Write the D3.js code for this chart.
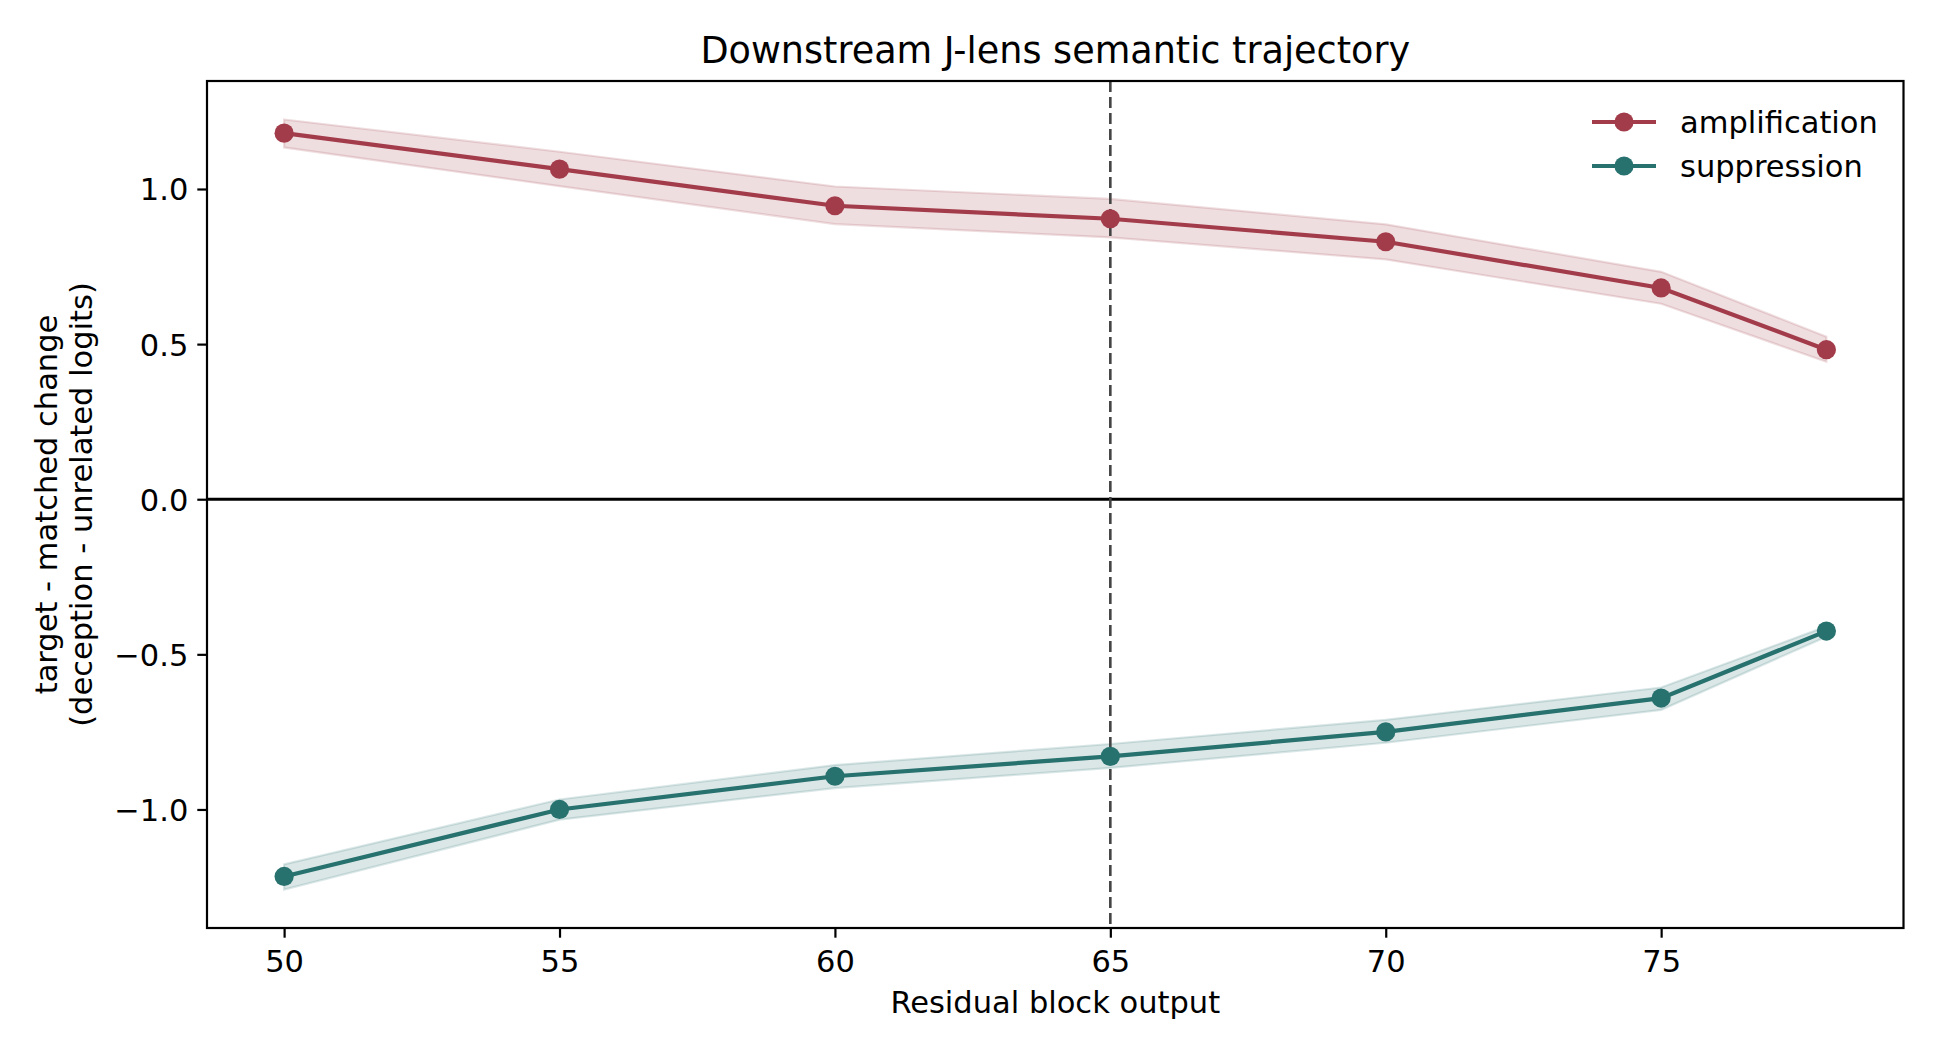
<!DOCTYPE html>
<html>
<head>
<meta charset="utf-8">
<script src="https://cdn.jsdelivr.net/npm/d3@7"></script>
<style>
  html, body { margin: 0; padding: 0; background: #fff; overflow: hidden; }
  svg { display: block; font-family: "DejaVu Sans", sans-serif; }
</style>
</head>
<body>
<div id="main"></div>
<script>
// residual block index
var blocks = [50, 55, 60, 65, 70, 75, 78];

var ampMean  = [1.180, 1.064, 0.946, 0.904, 0.830, 0.681, 0.482];
var ampLow   = [1.134, 1.009, 0.887, 0.844, 0.773, 0.630, 0.443];
var ampHigh  = [1.224, 1.120, 1.008, 0.968, 0.886, 0.733, 0.524];

var supMean  = [-1.216, -1.000, -0.893, -0.829, -0.750, -0.641, -0.425];
var supLow   = [-1.258, -1.033, -0.931, -0.866, -0.785, -0.679, -0.443];
var supHigh  = [-1.177, -0.968, -0.857, -0.789, -0.711, -0.607, -0.410];

var xTicks = [50, 55, 60, 65, 70, 75];
var yTicks = [-1.0, -0.5, 0.0, 0.5, 1.0];
var markerBlock = 65;

var seriesNames = ["amplification", "suppression"];
var seriesColors = ["#a33c4a", "#27716e"];

var outerWidth = 1936;
var outerHeight = 1056;

var marginLeft = 207;
var marginTop = 81;
var marginRight = 1936 - 1903.5;
var marginBottom = 1056 - 928;

var innerWidth = outerWidth - marginLeft - marginRight;
var innerHeight = outerHeight - marginTop - marginBottom;

var fontSize = 30.5;
var titleSize = 36.6;

// matplotlib style 5% padding
function pad(lo, hi) {
    var r = hi - lo;
    return [lo - 0.05 * r, hi + 0.05 * r];
}

var series = [
    { name: seriesNames[0], color: seriesColors[0], mean: ampMean, low: ampLow, high: ampHigh },
    { name: seriesNames[1], color: seriesColors[1], mean: supMean, low: supLow, high: supHigh }
];

var xScale = d3.scaleLinear()
    .domain(pad(d3.min(blocks), d3.max(blocks)))
    .range([0, innerWidth]);
var yScale = d3.scaleLinear()
    .domain(pad(d3.min(supLow), d3.max(ampHigh)))
    .range([innerHeight, 0]);

var svg = d3.select("#main")
    .append("svg")
    .attr("width", outerWidth)
    .attr("height", outerHeight);

var g = svg.append("g")
    .attr("transform", "translate(" + marginLeft + "," + marginTop + ")");

// bands
series.forEach(function (s) {
    var pts = blocks.map(function (b, i) { return { x: b, lo: s.low[i], hi: s.high[i] }; });
    var area = d3.area()
        .x(d => xScale(d.x))
        .y0(d => yScale(d.lo))
        .y1(d => yScale(d.hi));
    g.append("path")
        .datum(pts)
        .attr("d", area)
        .attr("fill", s.color)
        .attr("fill-opacity", 0.17)
        .attr("stroke", s.color)
        .attr("stroke-opacity", 0.17)
        .attr("stroke-width", 2.2);
});

// zero line and marker line
g.append("line")
    .attr("x1", 0).attr("x2", innerWidth)
    .attr("y1", yScale(0)).attr("y2", yScale(0))
    .attr("stroke", "#000")
    .attr("stroke-width", 2.8);

g.append("line")
    .attr("x1", xScale(markerBlock)).attr("x2", xScale(markerBlock))
    .attr("y1", 0).attr("y2", innerHeight)
    .attr("stroke", "#444")
    .attr("stroke-width", 2.6)
    .attr("stroke-dasharray", "11,5");

// lines and markers
series.forEach(function (s) {
    var pts = blocks.map(function (b, i) { return { x: b, y: s.mean[i] }; });
    var line = d3.line().x(d => xScale(d.x)).y(d => yScale(d.y));
    g.append("path")
        .datum(pts)
        .attr("d", line)
        .attr("fill", "none")
        .attr("stroke", s.color)
        .attr("stroke-width", 4.2);
    g.selectAll(null)
        .data(pts)
        .enter()
        .append("circle")
        .attr("cx", d => xScale(d.x))
        .attr("cy", d => yScale(d.y))
        .attr("r", 9.6)
        .attr("fill", s.color);
});

// axes
var xAxis = d3.axisBottom(xScale).tickValues(xTicks).tickSize(9.7).tickPadding(9).tickFormat(d3.format("d"));
var yAxis = d3.axisLeft(yScale).tickValues(yTicks).tickSize(9.7).tickPadding(9)
    .tickFormat(d => d3.format(".1f")(d).replace("-", "\u2212"));

var xAxisG = g.append("g")
    .attr("transform", "translate(0," + innerHeight + ")")
    .call(xAxis);
var yAxisG = g.append("g").call(yAxis);

[xAxisG, yAxisG].forEach(function (a) {
    a.select(".domain").remove();
    a.attr("font-family", null).attr("font-size", null);
    a.selectAll(".tick line").attr("stroke", "#000").attr("stroke-width", 2.2);
    a.selectAll(".tick text").attr("fill", "#000").style("font-size", fontSize + "px");
});
xAxisG.selectAll(".tick text").attr("dy", null).attr("y", 44);
yAxisG.selectAll(".tick text").attr("dy", "0.36em");

// frame
g.append("rect")
    .attr("width", innerWidth)
    .attr("height", innerHeight)
    .attr("fill", "none")
    .attr("stroke", "#000")
    .attr("stroke-width", 2.2);

// labels
svg.append("text")
    .attr("x", marginLeft + innerWidth / 2)
    .attr("y", 63)
    .attr("text-anchor", "middle")
    .style("font-size", titleSize + "px")
    .text("Downstream J-lens semantic trajectory");

svg.append("text")
    .attr("x", marginLeft + innerWidth / 2)
    .attr("y", 1013)
    .attr("text-anchor", "middle")
    .style("font-size", fontSize + "px")
    .text("Residual block output");

var yLabel = svg.append("text")
    .attr("transform", "translate(0," + (marginTop + innerHeight / 2) + ") rotate(-90)")
    .attr("text-anchor", "middle")
    .style("font-size", fontSize + "px");
yLabel.append("tspan").attr("x", 0).attr("y", 57).text("target - matched change");
yLabel.append("tspan").attr("x", 0).attr("y", 92).text("(deception - unrelated logits)");

// legend
var legend = svg.append("g").attr("transform", "translate(1592,122)");
series.forEach(function (s, i) {
    var row = legend.append("g").attr("transform", "translate(0," + (i * 44) + ")");
    row.append("line")
        .attr("x1", 0).attr("x2", 64)
        .attr("stroke", s.color)
        .attr("stroke-width", 4.2);
    row.append("circle")
        .attr("cx", 32)
        .attr("r", 9.6)
        .attr("fill", s.color);
    row.append("text")
        .attr("x", 88)
        .attr("dy", "0.36em")
        .style("font-size", fontSize + "px")
        .text(s.name);
});
</script>
</body>
</html>
